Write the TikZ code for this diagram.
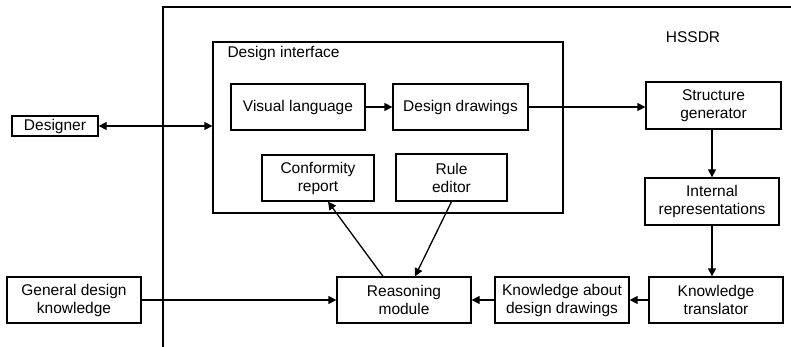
\documentclass[tikz,border=0pt]{standalone}
\usepackage{fontspec}
\setmainfont{Liberation Sans}
\usetikzlibrary{arrows.meta,calc}
\begin{document}
\begin{tikzpicture}[x=1pt,y=-1pt,
  every node/.style={font=\fontsize{15.5}{18}\selectfont},
  box/.style={draw,line width=1.3pt,align=center,inner sep=0pt},
  link/.style={line width=1.3pt,-{Triangle[length=8pt,width=8pt]}},
  dlink/.style={line width=1.3pt,{Triangle[length=8pt,width=8pt]}-{Triangle[length=8pt,width=8pt]}}]
\useasboundingbox (0,0) rectangle (791,347);
% system frame (open to the right and bottom)
\draw[line width=1.3pt] (163,347) -- (163,7) -- (791,7);
\node (hssdr) at (693,37) {HSSDR};
% design interface frame
\node[box,minimum width=350pt,minimum height=171pt] (di) at (388,127.5) {};
\node[anchor=west] (dilabel) at (224,53) {Design interface};
% boxes
\node[box,minimum width=86pt,minimum height=20pt] (designer) at (55,126) {Designer};
\node[box,minimum width=134pt,minimum height=46pt] (vl) at (298,107) {Visual language};
\node[box,minimum width=135pt,minimum height=46pt] (dd) at (460.5,107) {Design drawings};
\node[box,minimum width=112pt,minimum height=46pt] (cr) at (318,178) {Conformity\\report};
\node[box,minimum width=111pt,minimum height=47pt] (re) at (451.5,177.5) {Rule\\editor};
\node[box,minimum width=135pt,minimum height=47pt] (sg) at (713.5,105.5) {Structure\\generator};
\node[box,minimum width=134pt,minimum height=47pt] (ir) at (712,201.5) {Internal\\representations};
\node[box,minimum width=134pt,minimum height=46pt] (kt) at (716,300) {Knowledge\\translator};
\node[box,minimum width=134pt,minimum height=46pt] (kadd) at (562,300) {Knowledge about\\design drawings};
\node[box,minimum width=134pt,minimum height=46pt] (rm) at (404,300) {Reasoning\\module};
\node[box,minimum width=134pt,minimum height=46pt] (gdk) at (74,300) {General design\\knowledge};
% connectors
\draw[dlink] (designer.east) -- (designer.east -| di.west);
\draw[link] (vl) -- (dd);
\draw[link] (dd.east) -- (dd.east -| sg.west);
\draw[link] (sg.south -| ir.north) -- (ir.north);
\draw[link] (ir.south) -- (ir.south |- kt.north);
\draw[link] (kt) -- (kadd);
\draw[link] (kadd) -- (rm);
\draw[link] (gdk) -- (rm);
\draw[link] ([xshift=-21pt]rm.north) -- ([xshift=10pt]cr.south);
\draw[link] (re.south) -- ([xshift=11pt]rm.north);
\end{tikzpicture}
\end{document}
